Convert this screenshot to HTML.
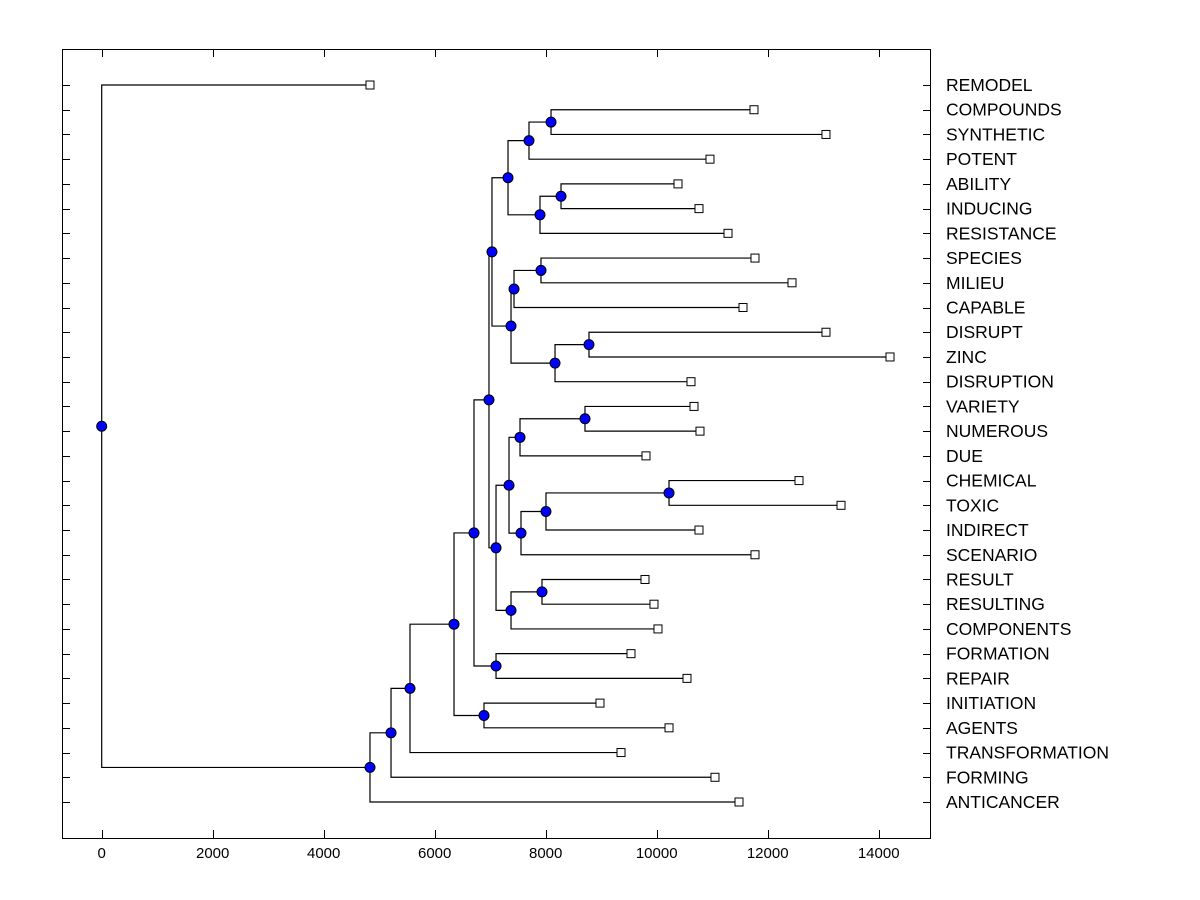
<!DOCTYPE html>
<html><head><meta charset="utf-8"><style>
html,body{margin:0;padding:0;background:#fff;}
svg{display:block;font-family:"Liberation Sans",Arial,sans-serif;}
</style></head><body>
<svg id="chart" width="1200" height="900" xmlns="http://www.w3.org/2000/svg">
<rect x="62.5" y="49.5" width="868" height="789" fill="none" stroke="#000" stroke-width="1"/>
<g id="axes"></g><g id="links"></g><g id="marks"></g><g id="labels"></g>
</svg>
<script>
const leafLabels = ["REMODEL","COMPOUNDS","SYNTHETIC","POTENT","ABILITY","INDUCING","RESISTANCE","SPECIES","MILIEU","CAPABLE","DISRUPT","ZINC","DISRUPTION","VARIETY","NUMEROUS","DUE","CHEMICAL","TOXIC","INDIRECT","SCENARIO","RESULT","RESULTING","COMPONENTS","FORMATION","REPAIR","INITIATION","AGENTS","TRANSFORMATION","FORMING","ANTICANCER"];
const leafValues = [4834,11753,13050,10960,10384,10762,11285,11771,12438,11555,13050,14204,10618,10672,10780,9807,12564,13321,10762,11771,9789,9951,10023,9537,10546,8978,10222,9357,11050,11483];
const mergeNames = ["n1","n2","n3","n4","n5","n6","n7","n8","n9","n10","n11","n12","n13","n14","n15","n16","n17","n18","n19","n20","n21","n22","n23","n24","n25","n26","n27","n28","root"];
const mergeLeft = ["COMPOUNDS","n1","ABILITY","n3","n2","SPECIES","n6","DISRUPT","n8","n7","n5","VARIETY","n12","CHEMICAL","n14","n15","n13","RESULT","n18","n17","n11","FORMATION","n21","INITIATION","n23","n25","n26","n27","REMODEL"];
const mergeRight = ["SYNTHETIC","POTENT","INDUCING","RESISTANCE","n4","MILIEU","CAPABLE","ZINC","DISRUPTION","n9","n10","NUMEROUS","DUE","TOXIC","INDIRECT","SCENARIO","n16","RESULTING","COMPONENTS","n19","n20","REPAIR","n22","AGENTS","n24","TRANSFORMATION","FORMING","ANTICANCER","n28"];
const mergeValues = [8096,7699,8276,7897,7321,7915,7429,8780,8168,7375,7032,8708,7537,10222,8005,7555,7339,7933,7375,7105,6978,7105,6708,6888,6348,5555,5213,4834,0];
const xTicks = [0,2000,4000,6000,8000,10000,12000,14000];

const NS="http://www.w3.org/2000/svg";
const xs = v => 101.7 + v*0.0555;
const ys = i => 85 + i*(717/29);
function mk(tag, attrs, parent){const e=document.createElementNS(NS,tag);for(const k in attrs)e.setAttribute(k,attrs[k]);parent.appendChild(e);return e;}
const axes=document.getElementById('axes'),links=document.getElementById('links'),marks=document.getElementById('marks'),labels=document.getElementById('labels');

xTicks.forEach(t=>{
  const x=Math.round(xs(t))+0.5;
  const a=mk('line',{x1:x,x2:x,y1:838,y2:830,stroke:'#000'},axes);
  
  
  const b=mk('line',{x1:x,x2:x,y1:49,y2:57,stroke:'#000'},axes);
  
  
  const tx=mk('text',{x:xs(t),y:858,'text-anchor':'middle','font-size':'15'},axes);
  tx.textContent=t;
  
  
});

const pos={};
leafLabels.forEach((l,i)=>{
  pos[l]={x:xs(leafValues[i]),y:ys(i),leaf:true};
  const y=Math.round(ys(i))+0.5;
  const a=mk('line',{x1:62,x2:70,y1:y,y2:y,stroke:'#000'},axes);
  
  
  const b=mk('line',{x1:923,x2:931,y1:y,y2:y,stroke:'#000'},axes);
  
  
  const t=mk('text',{x:946,y:ys(i)+6,'font-size':'17.5'},labels);
  t.textContent=l;
  
  
});

mergeNames.forEach((n,i)=>{
  const a=pos[mergeLeft[i]],b=pos[mergeRight[i]];
  const x=xs(mergeValues[i]);
  const y=(a.y+b.y)/2;
  pos[n]={x:x,y:y,leaf:false};
  const p=mk('path',{d:`M${a.x},${a.y}H${x}V${b.y}H${b.x}`,fill:'none',stroke:'#000','stroke-width':1.2},links);
  
  
});

leafLabels.forEach(l=>{
  const p=pos[l];
  const r=mk('rect',{x:p.x-4,y:p.y-4,width:8,height:8,fill:'#fff',stroke:'#000'},marks);
  
  
});
mergeNames.forEach(n=>{
  const p=pos[n];
  const c=mk('circle',{cx:p.x,cy:p.y,r:5,fill:'#0000ff',stroke:'#000','stroke-width':1},marks);
  
  
});
</script>
</body></html>
